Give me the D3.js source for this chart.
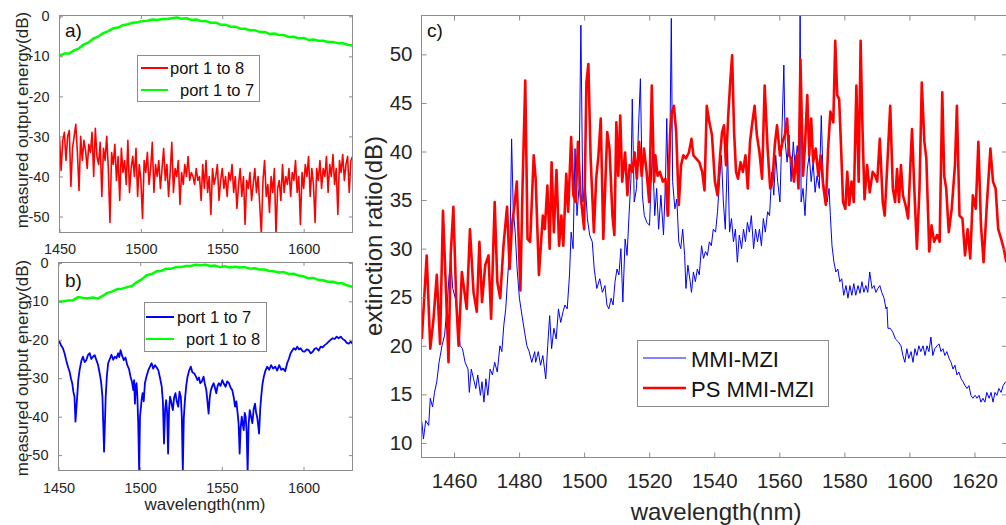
<!DOCTYPE html>
<html>
<head>
<meta charset="utf-8">
<script src="https://cdn.jsdelivr.net/npm/d3@7"></script>
<style>
  body { margin: 0; background: #fff; }
  svg { display: block; }
  text { font-family: "Liberation Sans", Arial, sans-serif; }
</style>
</head>
<body>
<svg id="chart" width="1006" height="525"></svg>
<script>
// ---- panel a) : port 1 to 8 (red) / port 1 to 7 (green), 1 nm and 3 nm grids
var aRedWl = d3.range(1450, 1631, 1);
var aRedDb = [
  -30.2,-38.5,-31,-29,-36,-30,-28.5,-42.5,-33,-30,
  -27,-34,-43.5,-30,-36,-31,-33.5,-38,-32,-34,
  -29,-40,-28,-35,-37,-31.5,-45,-33,-36,-30,
  -38,-51.5,-34,-37,-32,-41,-35,-46,-33,-39,
  -36,-42,-31,-44,-38,-35,-40,-33,-45,-37,
  -41,-50.5,-36,-39,-34,-42,-38,-31.5,-44,-37,
  -40,-36,-43,-38,-33,-41,-37,-45,-39,-31.5,
  -44,-38,-40,-36,-47,-39,-42,-37,-40,-35,
  -41,-39,-40,-42,-38,-41,-40,-46,-37,-43,
  -36,-44,-40,-49.5,-38,-42,-40,-37,-46,-41,
  -38,-43,-40,-45,-39,-41,-37,-44,-40,-48,
  -42,-38,-45,-40,-52,-41,-43,-39,-46,-42,
  -38,-44,-40,-47,-54.5,-41,-36,-45,-42,-49,
  -40,-44,-38,-54.5,-43,-41,-46,-37,-44,-40,
  -42,-38,-45,-39,-41,-36,-44,-40,-52,-39,
  -43,-37,-40,-35,-45,-38,-42,-51.5,-38,-41,
  -36,-43,-38,-40,-35,-44,-37,-40,-34.5,-42,
  -38,-49.5,-36,-39,-34.5,-41,-37,-35,-44,-36,
  -35
];
var aGreenWl = d3.range(1450, 1631, 3);
var aGreenDb = [
  -9.8,-9.3,-9.3,-8.5,-8.0,-7.0,-6.5,-5.5,-5.0,-4.2,
  -3.7,-3.0,-2.8,-2.2,-2.0,-1.6,-1.5,-1.2,-1.1,-0.8,
  -0.9,-0.7,-0.7,-0.5,-0.3,-0.6,-0.5,-0.9,-0.8,-1.2,
  -1.2,-1.6,-1.6,-2.1,-2.1,-2.6,-2.6,-3.1,-3.1,-3.5,
  -3.5,-3.9,-3.9,-4.4,-4.3,-4.7,-4.7,-5.2,-5.1,-5.5,
  -5.4,-5.9,-5.8,-6.1,-6.1,-6.4,-6.4,-6.7,-6.7,-7.1,
  -7.3
];

// ---- panel b) : port 1 to 7 (blue) / port 1 to 8 (green)
var bGreenWl = d3.range(1450, 1631, 3);
var bGreenDb = [
  -10.1,-10.0,-9.8,-9.7,-8.9,-9.1,-9.2,-9.0,-9.3,-8.6,
  -7.8,-7.4,-6.8,-6.7,-6.3,-6.0,-5.0,-4.3,-3.2,-2.9,
  -2.2,-2.1,-1.5,-1.5,-1.1,-1.1,-0.8,-0.8,-0.5,-0.6,
  -0.5,-0.8,-0.7,-1.1,-0.9,-1.2,-1.0,-1.2,-1.1,-1.5,
  -1.4,-1.7,-1.7,-2.1,-2.2,-2.5,-2.4,-2.9,-2.8,-3.3,
  -3.5,-4.0,-3.9,-4.4,-4.5,-4.9,-4.9,-5.3,-5.3,-5.9,
  -6.2
];
var bBlue = [
  [1450.0,-20.8],[1450.6,-20.5],[1451.6,-21.5],[1452.7,-22.2],[1453.7,-23.5],[1454.7,-25.3],
  [1455.8,-27.0],[1456.8,-28.3],[1457.6,-30.0],[1458.4,-31.3],[1459.1,-33.5],[1459.8,-34.8],
  [1460.4,-41.3],[1461.3,-35.7],[1462.1,-30.5],[1462.9,-27.9],[1464.0,-25.5],[1465.0,-24.4],
  [1466.0,-25.8],[1467.0,-25.3],[1468.0,-24.0],[1469.1,-23.5],[1470.1,-25.0],[1471.1,-24.4],
  [1472.2,-24.0],[1473.2,-25.3],[1474.2,-26.5],[1475.2,-28.7],[1476.1,-31.0],[1476.9,-34.8],
  [1477.9,-49.1],[1478.9,-34.8],[1479.6,-29.5],[1480.4,-26.1],[1481.4,-25.0],[1482.4,-23.9],
  [1483.5,-25.2],[1484.5,-24.4],[1485.5,-24.8],[1486.5,-23.5],[1487.2,-24.5],[1488.0,-22.7],
  [1489.0,-24.2],[1490.0,-25.3],[1491.0,-24.6],[1492.1,-26.6],[1493.1,-27.5],[1494.1,-29.6],
  [1495.0,-31.0],[1495.8,-33.1],[1496.3,-30.5],[1496.8,-36.6],[1497.3,-32.0],[1497.8,-31.3],
  [1498.3,-35.0],[1498.8,-41.7],[1499.4,-54.5],[1499.9,-40.0],[1500.3,-38.3],[1500.9,-35.5],
  [1501.5,-33.9],[1502.2,-36.0],[1502.9,-31.3],[1503.9,-29.5],[1505.0,-27.9],[1506.0,-27.0],
  [1507.0,-26.1],[1508.0,-27.5],[1509.1,-26.6],[1510.1,-27.2],[1511.1,-27.9],[1512.2,-30.0],
  [1513.2,-32.2],[1513.9,-36.0],[1514.6,-47.0],[1515.3,-38.0],[1515.9,-35.7],[1516.5,-39.0],
  [1517.1,-49.6],[1517.7,-38.0],[1518.3,-34.8],[1519.2,-36.5],[1520.0,-38.3],[1520.8,-35.0],
  [1521.6,-33.9],[1522.4,-36.0],[1523.3,-37.4],[1524.1,-33.5],[1524.9,-34.8],[1525.5,-40.0],
  [1526.1,-54.5],[1526.7,-40.5],[1527.4,-35.7],[1528.2,-32.0],[1529.0,-29.6],[1530.0,-28.0],
  [1531.0,-27.0],[1532.0,-28.5],[1533.1,-28.7],[1534.1,-29.5],[1535.1,-30.5],[1536.0,-29.8],
  [1536.8,-31.3],[1537.8,-30.8],[1538.8,-29.6],[1539.6,-31.5],[1540.5,-33.1],[1541.2,-36.0],
  [1541.9,-39.2],[1542.6,-35.0],[1543.3,-33.1],[1544.2,-32.0],[1545.0,-31.3],[1545.8,-32.5],
  [1546.6,-33.9],[1547.4,-32.0],[1548.2,-31.3],[1549.2,-32.0],[1550.3,-30.5],[1551.3,-31.5],
  [1552.3,-32.2],[1553.3,-30.8],[1554.4,-31.3],[1555.4,-32.5],[1556.4,-33.1],[1557.3,-35.0],
  [1558.1,-37.4],[1558.9,-36.0],[1559.7,-39.2],[1560.3,-42.0],[1560.9,-49.6],[1561.5,-43.0],
  [1562.2,-40.0],[1562.8,-42.0],[1563.4,-43.5],[1564.0,-39.0],[1564.6,-40.0],[1565.2,-44.0],
  [1565.8,-54.5],[1566.4,-42.0],[1567.1,-38.3],[1567.9,-40.0],[1568.7,-41.7],[1569.5,-38.0],
  [1570.3,-36.6],[1571.0,-39.0],[1571.6,-40.0],[1572.2,-42.0],[1572.8,-44.4],[1573.5,-38.0],
  [1574.1,-34.8],[1574.9,-31.5],[1575.7,-29.6],[1576.7,-28.0],[1577.8,-27.0],[1579.0,-27.8],
  [1580.2,-26.6],[1581.4,-27.5],[1582.7,-27.0],[1583.9,-28.0],[1585.1,-26.6],[1586.4,-27.8],
  [1587.6,-27.5],[1588.8,-28.2],[1590.0,-26.1],[1591.0,-25.0],[1592.1,-23.5],[1593.1,-22.8],
  [1594.1,-22.2],[1595.2,-22.6],[1596.2,-21.8],[1597.2,-22.5],[1598.2,-22.2],[1599.5,-23.0],
  [1600.7,-23.1],[1602.0,-22.5],[1603.2,-22.7],[1604.4,-23.5],[1605.6,-23.1],[1606.9,-22.3],
  [1608.1,-22.2],[1609.3,-22.8],[1610.5,-21.8],[1611.7,-22.0],[1613.0,-21.4],[1614.2,-21.0],
  [1615.4,-20.5],[1616.6,-20.0],[1617.9,-19.6],[1619.1,-19.8],[1620.3,-19.2],[1621.5,-19.6],
  [1622.8,-19.2],[1624.0,-19.8],[1625.2,-20.1],[1626.5,-20.8],[1627.7,-21.0],[1628.9,-20.5],
  [1630.0,-21.0]
];

// ---- panel c) : extinction ratio, MMI-MZI (blue) and PS MMI-MZI (red)
var cRedWl = [
  1450.1,1451.6,1452.7,1453.7,1454.7,1455.7,1456.6,1457.5,1458.3,1459.0,
  1459.8,1460.7,1461.4,1462.4,1463.9,1464.9,1466.0,1467.0,1467.8,1468.6,
  1469.6,1470.6,1471.4,1472.5,1473.3,1474.2,1475.2,1476.3,1477.1,1477.8,
  1478.6,1479.3,1480.4,1481.1,1481.9,1482.6,1483.4,1484.5,
  1485.1,1486.1,1487.3,1487.9,1488.7,1489.4,1490.0,1490.7,1491.5,1492.3,
  1493.0,1493.6,1494.5,1495.1,1496.0,1496.7,1497.4,1498.1,1498.9,1500.0,
  1500.7,1501.3,1502.0,1503.0,1503.7,1504.4,1505.1,1505.9,1506.6,1507.1,
  1507.8,1508.7,1509.3,1509.9,1510.5,1511.1,1511.7,1512.6,1513.3,1514.0,
  1514.8,1515.5,1516.2,1516.9,1517.7,1518.4,1519.2,1520.0,1520.8,1521.5,
  1521.9,1522.6,1523.3,1524.2,1525.0,1525.7,1526.4,1527.0,1527.6,1528.3,
  1529.1,1529.8,1530.5,1531.3,1532.2,1533.0,1533.6,1534.4,1535.4,1536.3,
  1537.0,1537.7,1538.5,1539.3,1540.2,1541.0,1541.8,1542.4,1543.0,1543.6,
  1544.3,1544.9,1545.5,1546.1,1546.7,1547.3,1548.1,1548.8,1549.6,1550.3,
  1551.0,1551.6,1552.4,1553.1,1553.9,1554.7,1555.5,1556.4,1557.2,
  1557.9,1558.6,1559.3,1560.2,1561.0,1561.7,1562.4,1563.0,1563.7,1564.5,
  1565.3,1565.9,1566.5,1567.3,1567.9,1568.6,1569.2,1569.8,1570.4,1571.2,
  1572.0,1572.7,1573.5,1574.3,1575.0,1575.7,1576.6,1577.2,1577.8,1578.4,
  1579.0,1579.6,1580.3,1580.9,1581.5,1582.2,1582.9,1583.7,1584.4,1585.0,
  1585.6,1586.2,1587.0,1587.8,1588.7,1589.5,1590.1,1590.9,1591.8,1592.4,1593.2,
  1594.1,1594.9,1595.6,1596.2,1596.8,1597.4,1598.0,1598.8,1599.6,1600.3,
  1600.8,1601.5,1602.3,1603.1,1603.8,1604.6,1605.2,1606.1,1606.8,1607.6,
  1608.5,1609.3,1610.1,1610.7,1611.3,1612.1,1613.0,1614.0,1614.6,1615.4,
  1616.3,1617.1,1617.9,1618.7,1619.5,1620.4,1621.2,1622.0,1622.8,1623.8,
  1624.9,1625.7,1626.5,1627.3,1628.2,1629.0,1629.8
];
var cRedDb = [
  20.7,29.3,19.7,22.8,27.3,20.2,33.9,25.9,18.3,29.5,
  34.3,24.5,20.0,27.6,23.8,32.0,25.5,23.5,30.7,24.5,
  28.3,29.3,22.8,34.8,26.6,24.9,30.3,34.3,27.9,32.4,
  34.5,36.9,25.7,36.9,47.3,31.0,30.7,39.6,
  37.2,27.3,33.4,32.0,36.5,30.0,38.9,31.7,38.1,30.3,
  33.4,30.3,37.7,33.8,41.5,35.5,34.8,41.0,35.5,32.0,
  47.1,49.0,39.3,31.7,37.2,39.6,43.4,31.0,37.5,42.0,
  40.3,33.4,31.4,43.0,37.5,43.7,36.9,39.9,35.5,38.6,
  37.9,39.9,37.2,41.0,37.5,40.3,37.9,34.8,46.8,36.9,
  39.6,37.5,37.9,36.9,37.2,33.4,41.7,44.1,44.7,42.0,
  34.5,38.6,39.6,39.3,39.9,41.3,39.6,39.3,38.9,37.9,
  36.0,44.7,43.0,41.7,36.9,35.5,39.6,42.0,42.7,38.6,
  43.7,47.1,49.9,42.0,37.9,37.2,38.9,37.9,39.6,36.2,
  41.0,42.7,44.7,41.7,39.9,37.2,46.8,40.3,36.2,
  36.9,40.6,42.7,39.6,41.0,41.7,43.4,39.6,39.3,36.9,
  39.6,36.2,49.5,37.5,40.6,45.8,39.6,43.4,38.9,40.3,
  37.5,39.6,36.5,34.5,40.3,44.1,43.0,51.4,45.8,45.4,
  40.3,34.8,34.1,37.9,34.5,36.9,34.8,46.8,36.9,51.4,
  42.0,35.1,38.6,35.8,37.9,37.5,36.9,41.3,34.8,33.4,38.6,
  44.7,36.2,34.8,38.2,34.8,38.6,35.5,34.5,33.1,38.6,
  42.3,36.2,30.0,36.2,47.1,41.0,39.3,29.7,32.4,30.7,
  31.4,30.7,46.1,37.5,36.2,31.7,34.1,38.6,44.7,33.4,
  33.1,29.3,32.0,29.0,35.5,34.1,41.0,32.4,28.6,34.5,
  40.3,36.9,36.2,32.0,31.0,30.0,28.6
];
var cBlueWl = [
  1450.1,1450.6,1451.3,1452.2,1452.7,1453.4,1454.0,1454.7,1455.4,1456.3,
  1457.1,1457.8,1458.5,1459.0,1459.6,1460.4,1461.2,1461.9,1462.6,1463.4,
  1464.3,1464.7,1465.3,1466.0,1466.7,1467.3,1468.1,1468.6,1469.2,1469.8,
  1470.4,1471.1,1471.8,1472.5,1473.3,1474.1,1474.7,1475.3,1475.9,1476.6,
  1477.2,1477.7,1478.2,1478.8,1479.4,1480.1,1480.9,1481.7,1482.4,1483.1,
  1483.9,1484.8,
  1485.1,1485.9,1486.6,1487.3,1488.2,1488.8,1489.4,1490.0,1490.7,1491.4,
  1492.1,1492.8,1493.5,1494.1,1494.8,1495.5,1496.0,1496.6,1497.2,1497.8,
  1498.4,1499.0,1499.6,1500.3,1501.0,1501.7,1502.5,1503.1,1503.9,1504.8,
  1505.6,1506.4,1507.0,1507.6,1508.3,1508.9,1509.5,1510.1,1510.7,1511.3,
  1511.9,1512.6,1513.2,1513.8,1514.4,1514.8,1515.4,1516.1,1516.7,1517.3,
  1517.9,1518.5,1519.3,1520.1,1521.0,
  1521.7,1522.3,1522.9,1523.6,1524.4,1525.0,1525.4,1526.0,1526.4,1526.8,
  1527.2,1527.9,1528.5,1529.1,1529.7,1530.3,1530.9,1531.3,1531.9,1532.6,
  1533.0,1533.6,1534.2,1534.8,1535.4,1536.1,1536.7,1537.3,1537.9,1538.5,
  1539.1,1539.7,1540.4,1541.0,1541.6,1542.2,1542.8,1543.4,1544.1,1544.7,
  1545.3,1545.9,1546.5,1547.1,1547.7,1548.4,1549.0,1549.6,1550.2,1550.8,
  1551.4,1552.1,1552.7,1553.3,1553.9,1554.5,1555.1,1555.7,1556.4,1557.0,
  1557.7,1558.3,1558.9,1559.5,1560.2,1560.8,1561.4,1561.8,1562.4,1563.0,
  1563.6,1564.3,1564.9,1565.5,1566.1,1566.4,1566.7,1567.3,1567.9,1568.6,
  1569.2,1569.8,1570.4,1571.0,1571.6,1572.3,1572.9,1573.5,1574.1,1574.7,
  1575.3,1575.7,1576.2,1576.8,1577.4,1578.0,1578.6,1579.2,1579.8,1580.5,
  1581.1,1581.7,1582.3,1582.9,1583.5,1584.2,1584.8,1585.4,1586.0,1586.6,
  1587.2,1587.8,1588.5,1589.1,1589.7,1590.3,1590.9,1591.5,1592.2,1592.8,
  1593.1,1593.4,
  1594.1,1594.9,1595.7,1596.6,1597.4,1598.0,1598.6,1599.2,1599.8,1600.5,
  1601.1,1601.7,1602.3,1602.9,1603.5,1604.2,1604.8,1605.4,1606.0,1606.6,
  1607.2,1607.8,1608.5,1609.1,1609.7,1610.3,1610.9,1611.5,1612.2,1612.8,
  1613.4,1614.0,1614.6,1615.2,1615.9,1616.5,1617.1,1617.7,1618.3,1618.9,
  1619.5,1620.2,1620.8,1621.4,1622.0,1622.6,1623.2,1623.8,1624.5,1625.1,
  1625.7,1626.3,1626.9,1627.5,1628.2,1628.8,1629.6
];
var cBlueDb = [
  12.2,10.4,12.3,11.8,14.6,13.7,15.2,16.3,18.3,20.0,
  21.1,23.8,27.3,29.0,25.9,24.9,22.8,20.0,19.7,18.3,
  17.6,15.2,17.6,16.6,15.6,17.0,14.9,16.3,14.2,16.6,
  14.9,17.6,17.0,18.3,17.3,20.0,19.4,22.1,23.8,27.6,
  30.3,41.3,34.1,31.7,27.9,24.9,23.1,21.4,20.0,19.4,
  18.3,19.4,
  18.3,19.4,18.0,19.0,16.6,20.0,23.1,19.7,21.8,20.7,
  23.8,22.4,23.5,24.2,23.8,27.3,31.7,30.0,40.3,33.4,
  36.2,53.0,34.8,36.9,33.1,31.4,30.7,27.9,25.9,26.9,
  25.5,26.2,24.2,23.8,24.9,24.2,26.6,27.9,27.3,30.0,
  24.5,31.0,29.3,33.4,37.2,45.4,34.8,36.2,42.3,47.5,
  35.5,33.4,32.7,32.4,40.3,
  33.4,36.2,32.0,35.5,31.4,36.9,43.4,33.4,42.0,53.7,
  36.9,34.1,35.1,30.7,30.0,32.0,29.3,25.9,28.3,26.6,
  25.5,27.6,26.6,27.9,27.3,30.3,29.0,29.7,29.3,30.7,
  30.3,32.0,31.7,33.8,36.9,39.6,34.8,32.0,40.3,31.7,
  33.1,30.7,32.0,28.6,31.4,30.0,32.0,30.7,32.7,31.7,
  33.4,30.0,32.0,30.7,32.0,30.3,33.1,31.7,33.8,33.4,
  37.9,35.5,39.6,36.9,34.8,42.0,48.9,41.0,38.9,41.7,
  36.9,41.0,38.2,40.6,38.6,55.0,34.8,36.2,33.4,38.2,
  39.6,36.9,38.9,35.8,37.5,36.2,43.7,36.9,35.5,34.8,
  36.2,33.4,30.3,28.6,27.6,27.9,26.6,26.9,25.2,26.2,
  24.9,26.2,25.2,26.4,25.2,26.2,25.4,26.6,25.5,26.2,
  25.5,27.6,25.9,26.2,25.5,25.9,26.2,25.5,24.9,23.8,
  24.0,21.8,
  21.8,21.4,20.7,20.4,20.0,19.0,18.3,19.7,18.7,19.4,
  18.3,19.7,19.0,20.0,19.4,20.0,19.0,20.0,19.4,20.9,
  19.0,19.7,20.0,20.2,19.4,19.7,19.0,19.4,18.7,18.3,
  17.6,18.0,17.0,17.3,16.6,16.3,15.9,15.6,15.9,14.9,
  14.6,14.9,14.6,14.9,14.2,14.6,14.2,15.2,14.6,15.2,
  14.2,15.2,14.9,15.6,15.2,15.9,16.3
];

var abXTicks = [1450, 1500, 1550, 1600];
var abYTicks = [-50, -40, -30, -20, -10, 0];
var cXTicks = [1460, 1480, 1500, 1520, 1540, 1560, 1580, 1600, 1620];
var cYTicks = [10, 15, 20, 25, 30, 35, 40, 45, 50];

var AXIS = '#8c8c8c', INK = '#262626';
var svg = d3.select('#chart');

function styleAxis(sel, fs) {
    sel.select('.domain').remove();
    sel.selectAll('.tick line').attr('stroke', AXIS);
    sel.selectAll('.tick text').attr('fill', INK).attr('font-size', fs)
        .attr('font-family', '"Liberation Sans", Arial, sans-serif');
}

function drawPanel(p) {
    var x = d3.scaleLinear().domain(p.xDomain).range([p.left, p.right]);
    var y = d3.scaleLinear().domain(p.yDomain).range([p.bottom, p.top]);
    var g = svg.append('g');

    g.append('clipPath').attr('id', p.id + '-clip').append('rect')
        .attr('x', p.left).attr('y', p.top)
        .attr('width', p.right - p.left).attr('height', p.bottom - p.top);

    var line = d3.line().x(function(d){ return x(d[0]); }).y(function(d){ return y(d[1]); });
    var plot = g.append('g').attr('clip-path', 'url(#' + p.id + '-clip)');
    p.series.forEach(function(s) {
        plot.append('path').datum(s.pts).attr('d', line)
            .attr('fill', 'none').attr('stroke', s.color)
            .attr('stroke-width', s.width).attr('stroke-linejoin', 'round');
    });

    // inward ticks on all four sides, like the MATLAB box
    g.append('g').attr('transform', 'translate(0,' + p.bottom + ')')
        .call(d3.axisBottom(x).tickValues(p.xTicks).tickSize(-p.tick).tickPadding(p.xPad).tickFormat(String))
        .call(styleAxis, p.tickFont);
    g.append('g').attr('transform', 'translate(0,' + p.top + ')')
        .call(d3.axisTop(x).tickValues(p.xTicks).tickSize(-p.tick).tickFormat(''))
        .call(styleAxis, p.tickFont);
    g.append('g').attr('transform', 'translate(' + p.left + ',0)')
        .call(d3.axisLeft(y).tickValues(p.yTicks).tickSize(-p.tick).tickPadding(p.yPad).tickFormat(String))
        .call(styleAxis, p.tickFont);
    g.append('g').attr('transform', 'translate(' + p.right + ',0)')
        .call(d3.axisRight(y).tickValues(p.yTicks).tickSize(-p.tick).tickFormat(''))
        .call(styleAxis, p.tickFont);

    g.append('rect').attr('x', p.left).attr('y', p.top)
        .attr('width', p.right - p.left).attr('height', p.bottom - p.top)
        .attr('fill', 'none').attr('stroke', AXIS);

    g.append('text').attr('x', p.tag[0]).attr('y', p.tag[1])
        .attr('font-size', p.tagFont).attr('fill', '#111').text(p.tagText);

    if (p.yLabel) {
        g.append('text')
            .attr('transform', 'translate(' + p.yLabel[0] + ',' + p.yLabel[1] + ') rotate(-90)')
            .attr('text-anchor', 'middle').attr('dy', '0.35em')
            .attr('font-size', p.labelFont).attr('fill', INK).text(p.yLabel[2]);
    }
    if (p.xLabel) {
        g.append('text').attr('x', p.xLabel[0]).attr('y', p.xLabel[1])
            .attr('text-anchor', 'middle')
            .attr('font-size', p.labelFont).attr('fill', INK).text(p.xLabel[2]);
    }

    // legend
    var L = p.legend;
    g.append('rect').attr('x', L.x).attr('y', L.y).attr('width', L.w).attr('height', L.h)
        .attr('fill', '#fff').attr('stroke', AXIS);
    L.items.forEach(function(it) {
        g.append('line').attr('x1', L.lx1).attr('x2', L.lx2).attr('y1', it.y).attr('y2', it.y)
            .attr('stroke', it.color).attr('stroke-width', it.width);
        g.append('text').attr('x', it.tx).attr('y', it.y + L.dy)
            .attr('font-size', L.font).attr('fill', '#111').text(it.text);
    });
}

// a)
drawPanel({
    id: 'pa', left: 59.5, right: 352.5, top: 15.5, bottom: 232.5,
    xDomain: [1450, 1630], yDomain: [-54, 0.2],
    xTicks: abXTicks, yTicks: abYTicks, tick: 3.5, xPad: 11, yPad: 10, tickFont: 14.5,
    series: [
        { pts: d3.zip(aGreenWl, aGreenDb), color: '#00ff00', width: 2.5 },
        { pts: d3.zip(aRedWl, aRedDb), color: '#ff0000', width: 1.6 }
    ],
    tag: [65, 37], tagText: 'a)', tagFont: 19,
    yLabel: [22, 120, 'measured output energy(dB)'], labelFont: 17,
    legend: { x: 137.5, y: 55.5, w: 122, h: 46, lx1: 141, lx2: 168, dy: 6, font: 16.5,
        items: [
            { y: 68, color: '#ff0000', width: 2, tx: 170, text: 'port 1 to 8' },
            { y: 90, color: '#00ff00', width: 2, tx: 180, text: 'port 1 to 7' }
        ] }
});

// b)
drawPanel({
    id: 'pb', left: 58.5, right: 352.5, top: 262.5, bottom: 470.5,
    xDomain: [1450, 1630], yDomain: [-54, 0.1],
    xTicks: abXTicks, yTicks: abYTicks, tick: 3.5, xPad: 12, yPad: 10, tickFont: 14.5,
    series: [
        { pts: d3.zip(bGreenWl, bGreenDb), color: '#00ff00', width: 2.5 },
        { pts: bBlue, color: '#0000ff', width: 1.8 }
    ],
    tag: [65, 287], tagText: 'b)', tagFont: 19,
    yLabel: [22, 368, 'measured output energy(dB)'], labelFont: 17,
    xLabel: [205, 510, 'wavelength(nm)'],
    legend: { x: 144.5, y: 302.5, w: 122, h: 49, lx1: 146, lx2: 174, dy: 6, font: 16.5,
        items: [
            { y: 317, color: '#0000ff', width: 2, tx: 177, text: 'port 1 to 7' },
            { y: 339, color: '#00ff00', width: 2, tx: 186, text: 'port 1 to 8' }
        ] }
});

// c)
drawPanel({
    id: 'pc', left: 421.5, right: 1007, top: 15.5, bottom: 457.5,
    xDomain: [1450, 1630], yDomain: [8.5, 54],
    xTicks: cXTicks, yTicks: cYTicks, tick: 5, xPad: 16, yPad: 9, tickFont: 20.5,
    series: [
        { pts: d3.zip(cBlueWl, cBlueDb), color: '#0000ff', width: 1 },
        { pts: d3.zip(cRedWl, cRedDb), color: '#ff0000', width: 2.6 }
    ],
    tag: [427, 37], tagText: 'c)', tagFont: 19,
    yLabel: [374, 236, 'extinction ratio(dB)'], labelFont: 24,
    xLabel: [716, 520, 'wavelength(nm)'],
    legend: { x: 637.5, y: 340.5, w: 191, h: 66, lx1: 643, lx2: 686, dy: 9, font: 22,
        items: [
            { y: 358, color: '#5a5aff', width: 1.5, tx: 691, text: 'MMI-MZI' },
            { y: 388, color: '#ff0000', width: 2.6, tx: 691, text: 'PS MMI-MZI' }
        ] }
});
</script>
</body>
</html>
